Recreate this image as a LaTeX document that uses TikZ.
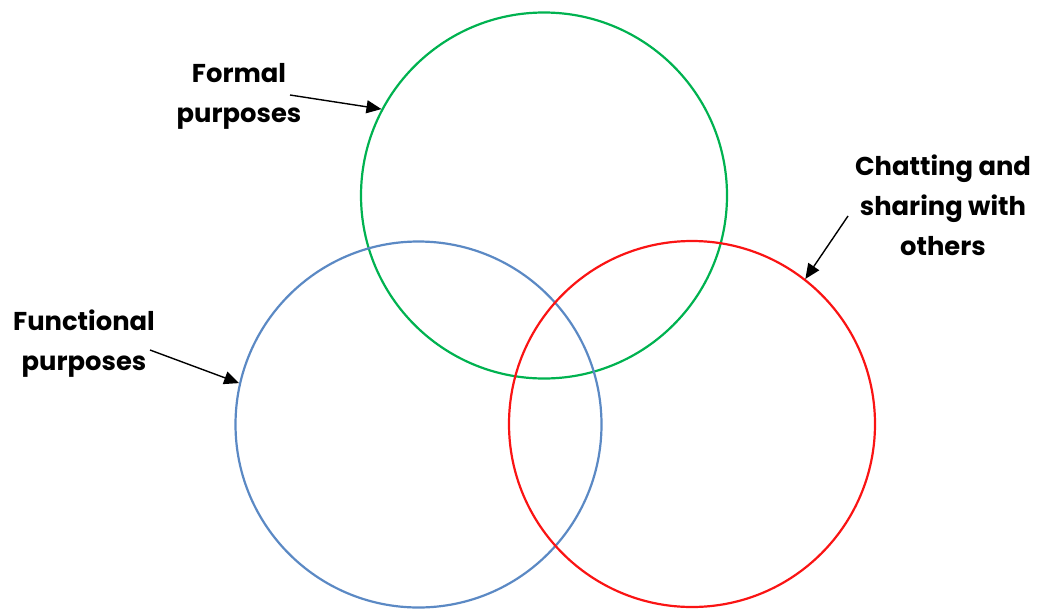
\documentclass[tikz,border=0pt]{standalone}
\usepackage{fontspec}
\setmainfont{Poppins}
\usetikzlibrary{arrows.meta}
\begin{document}
\begin{tikzpicture}[x=1pt,y=-1pt,
  ring/.style={circle, minimum size=366pt, inner sep=0pt, line width=2.2pt, draw=#1},
  lbl/.style={align=center, font=\fontsize{25.8}{40}\selectfont\bfseries, inner sep=0pt},
  pointer/.style={line width=1.4pt, -{Triangle[length=15pt,width=13pt]}}]
\useasboundingbox (0,0) rectangle (1051,608);
\definecolor{vgreen}{RGB}{0,178,80}
\definecolor{vblue}{RGB}{91,137,196}
\definecolor{vred}{RGB}{250,20,20}
\node[ring=vgreen] (green) at (544,195.5) {};
\node[ring=vblue] (blue) at (418.5,424.5) {};
\node[ring=vred] (red) at (692,424) {};
\node[lbl] (formal) at (239,96) {Formal\\purposes};
\node[lbl] (functional) at (84,344) {Functional\\purposes};
\node[lbl] (chatting) at (943,205) {Chatting and\\sharing with\\others};
\coordinate (fs) at (290,95);
\coordinate (us) at (150,350);
\coordinate (cs) at (848,216);
\draw[pointer] (fs) -- (green.152);
\draw[pointer] (us) -- (blue.167);
\draw[pointer] (cs) -- (red.52);
\end{tikzpicture}
\end{document}
